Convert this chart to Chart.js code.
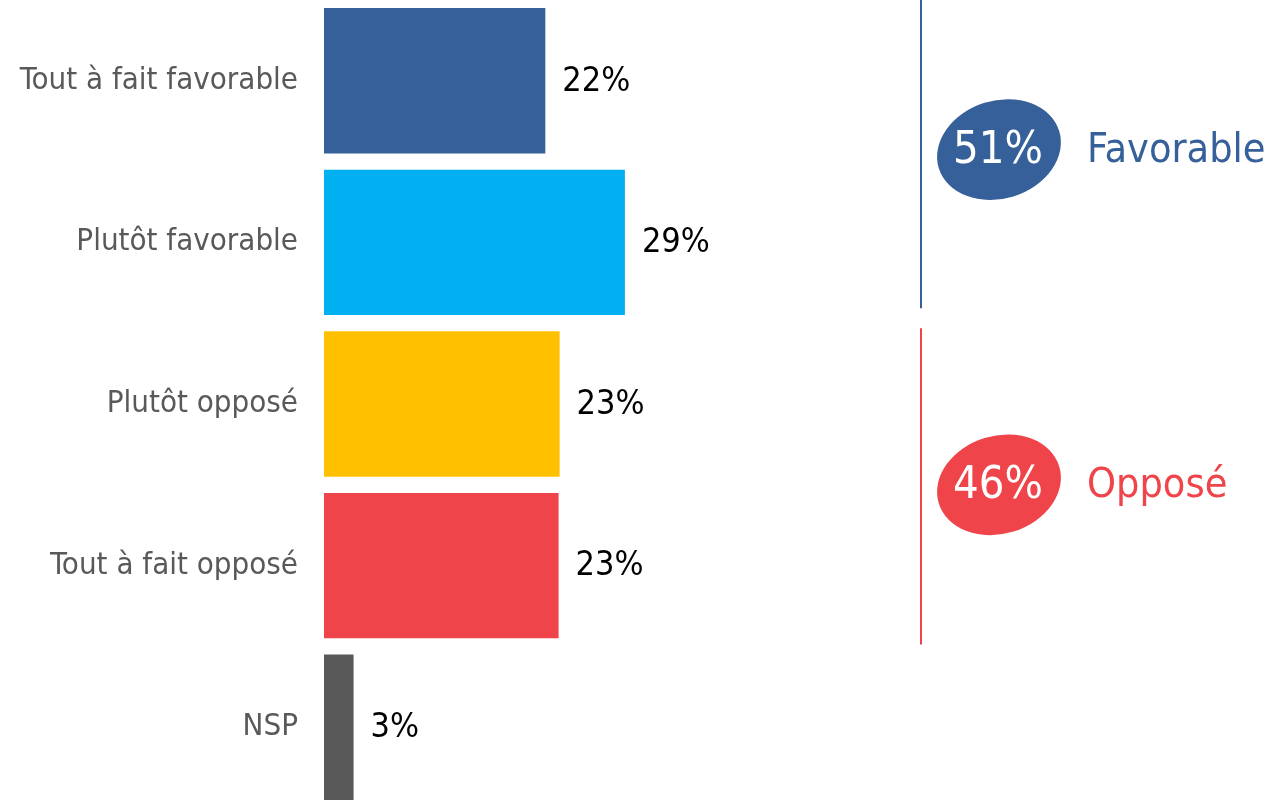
<!DOCTYPE html>
<html>
<head>
<meta charset="utf-8">
<script src="https://cdn.jsdelivr.net/npm/chart.js@4/dist/chart.umd.min.js"></script>
<style>
  html, body { margin: 0; padding: 0; background: #fff; overflow: hidden; }
  #wrap { width: 1269px; height: 808px; }
</style>
</head>
<body>
<div id="wrap"><canvas id="myChart" width="1269" height="808"></canvas></div>
<script>
'use strict';

var categories = ["Tout à fait favorable", "Plutôt favorable", "Plutôt opposé", "Tout à fait opposé", "NSP"];
var values = [21.7, 29.5, 23.1, 23.0, 2.9];
var valueLabels = ["22%", "29%", "23%", "23%", "3%"];
var barColors = ["#36609a", "#00b0f0", "#ffc000", "#ee444a", "#595959"];

var groupNames = ["Favorable", "Opposé"];
var groupTotals = ["51%", "46%"];
var groupColors = ["#36609a", "#ee444a"];
var groupRanges = [[0, 1], [2, 3]];

var FONT = "'DejaVu Sans Condensed', 'DejaVu Sans', sans-serif";

// value text at the end of every bar
var valueLabelPlugin = {
    id: 'valueLabels',
    afterDatasetsDraw: function(chart) {
        var ctx = chart.ctx;
        var meta = chart.getDatasetMeta(0);
        ctx.save();
        ctx.font = "34px " + FONT;
        ctx.fillStyle = "#000";
        ctx.textAlign = "left";
        ctx.textBaseline = "middle";
        meta.data.forEach(function(bar, i) {
            ctx.fillText(valueLabels[i], bar.x + 17, bar.y + 1);
        });
        ctx.restore();
    }
};

// brackets + totals on the right
var groupPlugin = {
    id: 'groups',
    afterDraw: function(chart) {
        var ctx = chart.ctx;
        var y = chart.scales.y;
        var half = (y.getPixelForValue(1) - y.getPixelForValue(0)) / 2;
        var lineX = 921;
        ctx.save();
        groupRanges.forEach(function(r, g) {
            var top = g === 0 ? 0 : y.getPixelForValue(r[0]) - half + 5;
            var bottom = y.getPixelForValue(r[1]) + half - (g === 0 ? 15 : 2);
            var mid = (y.getPixelForValue(r[0]) + y.getPixelForValue(r[1])) / 2 + (g === 0 ? -12 : 0);

            ctx.strokeStyle = groupColors[g];
            ctx.lineWidth = 2;
            ctx.beginPath();
            ctx.moveTo(lineX, top);
            ctx.lineTo(lineX, bottom);
            ctx.stroke();

            ctx.fillStyle = groupColors[g];
            ctx.beginPath();
            ctx.ellipse(999, mid, 63, 49, -0.3, 0, Math.PI * 2);
            ctx.fill();

            ctx.textBaseline = "middle";
            ctx.textAlign = "center";
            ctx.fillStyle = "#fff";
            ctx.font = "45px " + FONT;
            ctx.fillText(groupTotals[g], 998, mid + 2);

            ctx.textAlign = "left";
            ctx.fillStyle = groupColors[g];
            ctx.font = "41px " + FONT;
            ctx.fillText(groupNames[g], 1087, mid + 2);
        });
        ctx.restore();
    }
};

var ctx = document.getElementById("myChart");
var myChart = new Chart(ctx, {
    type: 'bar',
    data: {
        labels: categories,
        datasets: [{
            data: values,
            backgroundColor: barColors,
            borderWidth: 0,
            barPercentage: 0.9,
            categoryPercentage: 1
        }]
    },
    options: {
        indexAxis: 'y',
        responsive: false,
        animation: false,
        layout: {
            padding: { top: 0, bottom: 0, left: 0, right: 333 }
        },
        scales: {
            x: {
                display: false,
                min: 0,
                max: 60
            },
            y: {
                grid: { display: false, drawTicks: false },
                border: { display: false },
                ticks: {
                    color: "#595959",
                    padding: 26,
                    font: { family: FONT, size: 31 }
                },
                afterFit: function(scale) {
                    scale.width = 324;
                    scale.paddingTop = 0;
                    scale.paddingBottom = 0;
                }
            }
        },
        plugins: {
            legend: { display: false },
            tooltip: { enabled: false }
        }
    },
    plugins: [valueLabelPlugin, groupPlugin]
});
</script>
</body>
</html>
